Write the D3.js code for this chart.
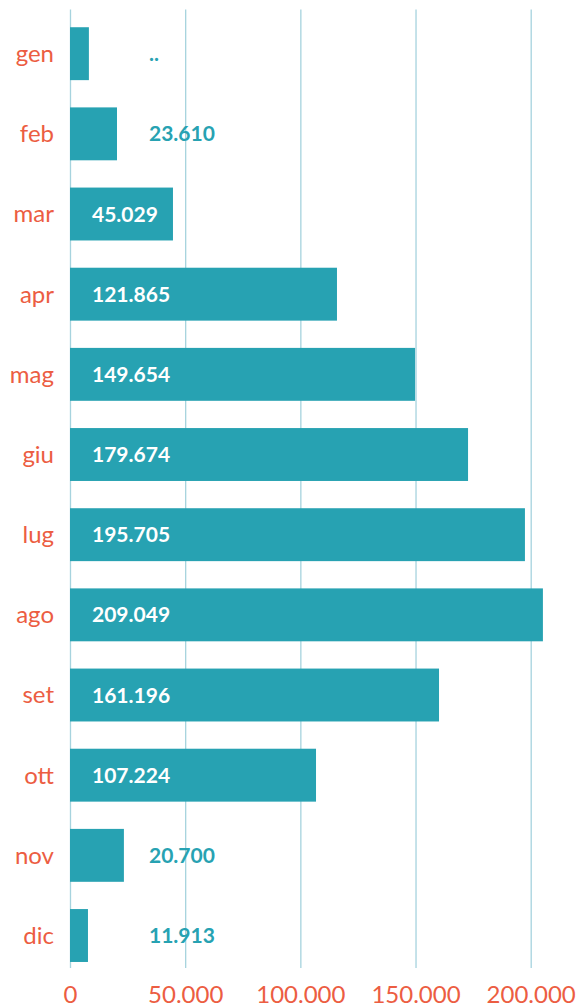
<!DOCTYPE html>
<html>
<head>
<meta charset="utf-8">
<script src="https://cdn.jsdelivr.net/npm/d3@7"></script>
<style>
  html, body { margin: 0; padding: 0; background: #fff; }
  svg { display: block; font-family: Lato, "Open Sans", sans-serif; }
</style>
</head>
<body>
<svg id="chart" width="578" height="1008"></svg>
<script>
// months shown on the left
const months = ['gen', 'feb', 'mar', 'apr', 'mag', 'giu', 'lug', 'ago', 'set', 'ott', 'nov', 'dic'];
// bar lengths as drawn in the picture
const barValues = [8200, 20400, 44700, 115900, 149800, 172800, 197500, 205300, 160200, 106800, 23400, 7800];
// printed value labels (null = "..")
const labelValues = [null, 23610, 45029, 121865, 149654, 179674, 195705, 209049, 161196, 107224, 20700, 11913];
const xTicks = [0, 50000, 100000, 150000, 200000];

const data = months.map((m, i) => ({ month: m, bar: barValues[i], label: labelValues[i] }));

const teal = '#27a2b2';
const coral = '#ec5d42';
const gridColor = '#a6d3de';

const it = d3.formatLocale({ decimal: ',', thousands: '.', grouping: [3], currency: ['€', ''] });
const fmt = it.format(',d');

const svg = d3.select('#chart');

const x = d3.scaleLinear().domain([0, 200000]).range([70, 530.7]);
const y = d3.scaleBand()
    .domain(months)
    .range([13.6, 975.6])
    .paddingInner(0.34)
    .paddingOuter(0.17);

// gridlines + tick labels
const axis = svg.append('g')
    .attr('transform', 'translate(0, 968)')
    .call(d3.axisBottom(x)
        .tickValues(xTicks)
        .tickSize(968 - 9.5)
        .tickFormat(d => fmt(d)));
axis.select('.domain').remove();
axis.selectAll('.tick line')
    .attr('y2', -(968 - 9.5))
    .attr('stroke', gridColor)
    .attr('stroke-width', 1.3);
axis.selectAll('.tick text')
    .attr('y', 0)
    .attr('dy', 35)
    .attr('fill', coral)
    .style('font-size', '24px')
    .style('font-family', 'Lato, sans-serif');

// bars
svg.append('g').selectAll('rect')
    .data(data)
    .join('rect')
    .attr('x', x(0))
    .attr('y', d => y(d.month))
    .attr('width', d => x(d.bar) - x(0))
    .attr('height', y.bandwidth())
    .attr('fill', teal);

// month labels
svg.append('g').selectAll('text')
    .data(data)
    .join('text')
    .attr('x', 54)
    .attr('y', d => y(d.month) + y.bandwidth() / 2)
    .attr('dy', '0.35em')
    .attr('text-anchor', 'end')
    .attr('fill', coral)
    .style('font-size', '24px')
    .text(d => d.month);

// value labels: inside the bar when it is wide enough
const inside = d => x(d.bar) - x(0) > 90;
svg.append('g').selectAll('text')
    .data(data)
    .join('text')
    .attr('x', d => inside(d) ? 92 : 149)
    .attr('y', d => y(d.month) + y.bandwidth() / 2)
    .attr('dy', '0.36em')
    .attr('fill', d => inside(d) ? '#fff' : teal)
    .style('font-size', '21px')
    .style('font-weight', 700)
    .text(d => d.label == null ? '..' : fmt(d.label));
</script>
</body>
</html>
